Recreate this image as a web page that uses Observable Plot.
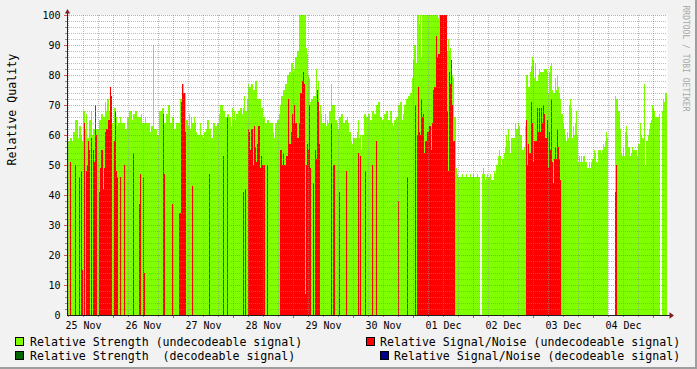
<!DOCTYPE html>
<html><head><meta charset="utf-8">
<script src="https://cdn.jsdelivr.net/npm/d3@7"></script>
<script src="https://cdn.jsdelivr.net/npm/@observablehq/plot@0.6"></script>
<style>
html,body{margin:0;padding:0;background:#f2f2f2;}
#wrap{position:relative;width:697px;height:369px;background:#f2f2f2;overflow:hidden;font-family:"DejaVu Sans Mono",monospace;color:#000;}
#wrap::after{content:"";position:absolute;left:0;top:0;right:0;bottom:0;border-right:2px solid #9e9e9e;border-bottom:2px solid #9e9e9e;pointer-events:none;}
#chart svg{display:block;background:transparent;}
#legend{position:relative;height:39px;font-size:11.6px;line-height:14px;white-space:pre;}
#legend .box{position:absolute;width:9px;height:9px;box-sizing:border-box;border:1px solid #000;}
#legend .lt{position:absolute;}
</style>
</head><body>
<div id="wrap"><div id="chart"></div><div id="legend"></div></div>
<script>
// ---- time base: one sample every 24 minutes, 600 samples (10 days)
const startTime = Date.UTC(2012, 10, 25, 5, 36);
const stepMinutes = 24;
const sampleCount = 600;

// day tick labels (centred on noon)
const dayLabels = ["2012-11-25","2012-11-26","2012-11-27","2012-11-28","2012-11-29","2012-11-30","2012-12-01","2012-12-02","2012-12-03","2012-12-04"];
const yTickValues = [0,10,20,30,40,50,60,70,80,90,100];

// series as runs: [sampleIndex, value] — value holds until next run; null = no data
const strengthUndecodeable = [
[0,56],[1,58],[3,59],[5,58],[6,61],[8,65],[11,59],[12,63],[14,60],[15,58],[16,68],[18,62],[19,67],[20,59],[22,65],[24,68],[25,60],[26,62],
[32,65],[34,67],[36,66],[38,71],[39,68],[40,72],[42,68],[43,72],[45,64],[46,58],[47,69],[49,66],[50,63],[51,64],[53,66],[54,64],[58,62],
[60,66],[62,68],[65,65],[66,67],[68,68],[70,66],[74,67],[75,64],[78,66],[79,64],[83,61],[84,63],[86,90],[87,62],[90,60],[92,68],[95,69],
[97,64],[99,67],[101,70],[103,64],[105,66],[107,62],[109,64],[113,72],[115,74],[116,77],[117,74],[119,65],[121,63],[122,67],[123,62],
[124,66],[125,64],[127,66],[128,64],[129,61],[130,60],[133,64],[134,60],[136,59],[137,61],[139,62],[140,65],[142,62],[144,59],[146,64],
[148,63],[150,64],[152,67],[153,70],[156,68],[158,66],[160,67],[162,66],[164,63],[165,69],[166,65],[167,68],[168,65],[169,67],[171,68],
[173,69],[175,67],[176,69],[177,73],[178,68],[180,72],[181,77],[182,76],[184,77],[186,75],[188,78],[190,72],[194,69],[196,66],[198,64],
[200,65],[202,64],[206,61],[207,59],[208,64],[210,65],[212,67],[213,70],[214,73],[216,75],[218,77],[220,80],[222,81],[224,84],[226,81],
[227,82],[228,86],[230,88],[232,100],[239,89],[240,87],[241,80],[242,79],[243,71],[244,72],[246,73],[249,82],[250,75],[251,78],[252,68],
[253,70],[254,67],[255,64],[258,67],[259,63],[260,65],[261,64],[262,68],[264,77],[265,70],[268,65],[270,64],[271,62],[272,66],[274,67],
[276,64],[278,65],[280,66],[281,64],[282,61],[284,58],[285,57],[286,59],[290,61],[291,65],[292,59],[293,60],[294,55],[295,60],[297,67],
[299,66],[301,67],[303,65],[305,68],[307,67],[309,70],[311,71],[313,66],[315,65],[317,67],[319,68],[321,65],[323,68],[325,64],[326,63],
[327,65],[329,66],[331,70],[333,71],[335,65],[336,67],[337,70],[339,72],[341,73],[343,74],[345,79],[346,85],[347,90],[349,84],[350,100],
[352,97],[353,100],[354,86],[355,100],[371,99],[372,100],[374,98],[375,100],[380,88],[381,92],[382,88],[383,89],[384,85],[385,80],[386,79],
[387,66],[389,49],[390,47],[391,46],[395,47],[396,46],[399,47],[400,46],[403,47],[404,46],[406,47],[407,46],[410,47],[411,46],[413,null],
[415,47],[416,49],[417,47],[418,45],[419,46],[420,47],[421,46],[423,47],[424,45],[427,48],[428,47],[429,50],[431,53],[432,55],[433,53],
[434,50],[435,52],[437,54],[438,56],[439,60],[440,58],[441,62],[442,58],[443,54],[444,59],[448,64],[449,62],[451,64],[452,63],[453,60],
[455,55],[457,56],[458,63],[459,80],[461,76],[463,81],[464,83],[465,86],[466,85],[467,79],[468,84],[469,78],[471,80],[472,82],[473,81],
[477,82],[480,81],[481,74],[482,81],[483,83],[484,84],[485,75],[486,74],[488,79],[489,75],[490,80],[491,76],[492,74],[493,72],[494,67],
[496,64],[497,62],[498,60],[499,58],[500,61],[501,59],[502,70],[503,72],[504,69],[505,59],[506,63],[507,60],[508,64],[509,68],[510,60],
[511,51],[512,53],[513,51],[514,53],[515,51],[516,53],[518,51],[520,49],[522,51],[523,49],[524,51],[525,52],[527,55],[528,54],[529,51],
[531,55],[534,54],[535,55],[536,57],[537,56],[538,58],[539,61],[540,59],[541,null],[548,73],[549,72],[551,68],[553,62],[554,54],[555,53],
[556,56],[557,53],[558,61],[559,63],[560,60],[561,56],[563,53],[564,54],[565,56],[566,55],[570,53],[571,57],[573,64],[574,60],[575,59],
[577,77],[578,50],[579,58],[581,60],[582,62],[583,64],[584,65],[585,70],[586,69],[587,68],[588,66],[592,67],[593,null],[595,68],[596,72],
[597,71],[598,74]
];

const snrUndecodeable = [
[0,0],[3,51],[4,0],[8,50],[9,0],[12,46],[13,0],[14,48],[15,15],[16,0],[17,64],[18,0],[19,48],[20,50],[21,58],[22,55],[23,0],[24,59],[25,0],
[26,55],[27,51],[28,70],[29,60],[30,0],[32,41],[33,49],[34,55],[36,42],[37,49],[38,61],[39,62],[41,65],[43,76],[44,73],[45,0],[47,58],
[48,68],[49,48],[50,46],[51,0],[53,46],[54,0],[57,50],[58,0],[66,54],[67,0],[72,37],[73,47],[74,0],[76,46],[77,14],[78,0],[96,67],[97,47],
[98,0],[105,37],[106,0],[112,34],[114,71],[115,77],[116,74],[118,61],[119,0],[125,43],[126,0],[142,47],[143,0],[156,53],[157,0],[160,66],
[161,0],[176,41],[177,0],[178,42],[179,0],[181,62],[182,61],[183,55],[184,62],[186,50],[187,63],[188,56],[189,51],[190,57],[191,63],
[193,49],[194,53],[195,50],[198,0],[200,50],[201,0],[213,55],[215,50],[216,54],[217,50],[219,53],[221,72],[222,57],[224,61],[225,67],
[226,64],[227,70],[228,64],[230,59],[232,64],[233,74],[235,78],[236,81],[237,77],[238,7],[239,50],[240,57],[241,55],[242,70],[243,49],
[244,0],[246,44],[247,0],[248,55],[249,52],[250,75],[251,71],[252,57],[253,0],[264,64],[265,0],[266,50],[268,0],[272,41],[273,0],[279,48],
[280,0],[291,54],[292,0],[293,53],[294,0],[298,48],[299,0],[305,50],[306,0],[309,58],[310,0],[331,38],[332,0],[340,46],[341,0],[348,70],
[349,0],[350,60],[351,76],[352,61],[353,60],[354,72],[355,66],[356,67],[357,54],[358,58],[360,61],[362,63],[364,55],[365,64],[366,75],
[367,76],[369,93],[370,86],[371,87],[373,100],[380,68],[381,48],[382,81],[383,77],[384,85],[385,70],[386,58],[388,0],[459,65],[460,50],
[461,57],[462,54],[464,71],[465,64],[466,51],[467,58],[470,69],[471,61],[472,69],[473,61],[474,69],[475,64],[476,70],[477,67],[478,59],
[480,65],[481,49],[482,61],[483,55],[484,72],[485,51],[486,44],[487,52],[488,56],[489,52],[490,62],[491,56],[492,52],[493,45],[494,0],
[548,41],[549,50],[550,0]
];

const strengthDecodeable = [];
const snrDecodeable = [];

const legendItems = [
  {label: "Relative Strength (undecodeable signal)", color: "#7fff00"},
  {label: "Relative Signal/Noise (undecodeable signal)", color: "#ff0000"},
  {label: "Relative Strength  (decodeable signal)", color: "#006400"},
  {label: "Relative Signal/Noise (decodeable signal)", color: "#00008b"}
];

// ---- helpers
const stepMs = stepMinutes * 60000;
const endTime = startTime + sampleCount * stepMs;
const t = (i) => new Date(startTime + i * stepMs);
function runsToRects(runs) {
  const out = [];
  for (let k = 0; k < runs.length; k++) {
    const [i, v] = runs[k];
    const j = k + 1 < runs.length ? runs[k + 1][0] : sampleCount;
    if (v == null || v <= 0) continue;
    out.push({start: t(i), end: t(j), v});
  }
  return out;
}
const greenRects = runsToRects(strengthUndecodeable);
const redRects = runsToRects(snrUndecodeable);
const dgRects = runsToRects(strengthDecodeable);
const blueRects = runsToRects(snrDecodeable);

const noonTicks = dayLabels.map(d => new Date(d + "T12:00:00Z"));
const sixHours = d3.utcHour.every(6).range(new Date(startTime), new Date(endTime));
const majorX = sixHours.filter(d => d.getUTCHours() === 0);
const minorX = sixHours.filter(d => d.getUTCHours() !== 0);
const minorY = d3.range(2, 100, 2).filter(v => v % 10 !== 0);
const majorY = d3.range(10, 101, 10);

const triUp = {draw(ctx) { ctx.moveTo(0, -2.5); ctx.lineTo(2.6, 2); ctx.lineTo(-2.6, 2); ctx.closePath(); }};
const triRight = {draw(ctx) { ctx.moveTo(2.5, 0); ctx.lineTo(-2, -3.3); ctx.lineTo(-2, 3.3); ctx.closePath(); }};

const font = "DejaVu Sans Mono";
const minorCol = "#8f8f8f", majorCol = "#de4f4f";

const chart = Plot.plot({
  width: 697, height: 330,
  marginLeft: 67, marginRight: 30, marginTop: 15, marginBottom: 15,
  style: {background: "transparent", fontFamily: font, color: "#000"},
  x: {type: "utc", domain: [new Date(startTime), new Date(endTime)], axis: null},
  y: {domain: [0, 100], axis: null},
  marks: [
    Plot.frame({fill: "#fff", stroke: "none"}),
    Plot.rect(greenRects, {x1: "start", x2: "end", y1: 0, y2: "v", fill: "#7fff00", shapeRendering: "crispEdges"}),
    Plot.rect(redRects, {x1: "start", x2: "end", y1: 0, y2: "v", fill: "#ff0000", shapeRendering: "crispEdges"}),
    Plot.rect(dgRects, {x1: "start", x2: "end", y1: 0, y2: "v", fill: "#006400", shapeRendering: "crispEdges"}),
    Plot.rect(blueRects, {x1: "start", x2: "end", y1: 0, y2: "v", fill: "#00008b", shapeRendering: "crispEdges"}),
    Plot.ruleY(minorY, {stroke: minorCol, strokeOpacity: 0.6, strokeDasharray: "1,1"}),
    Plot.ruleX(minorX, {stroke: minorCol, strokeOpacity: 0.6, strokeDasharray: "1,1"}),
    Plot.ruleY(majorY, {stroke: majorCol, strokeOpacity: 0.55, strokeDasharray: "1,1"}),
    Plot.ruleX(majorX, {stroke: majorCol, strokeOpacity: 0.55, strokeDasharray: "1,1"}),
    Plot.axisX({ticks: minorX, tickSize: 2, tickFormat: () => "", stroke: minorCol}),
    Plot.axisX({ticks: majorX, tickSize: 3, tickFormat: () => "", stroke: majorCol}),
    Plot.axisY({ticks: minorY, tickSize: 2, tickFormat: () => "", stroke: minorCol}),
    Plot.axisY({ticks: majorY, tickSize: 3, tickFormat: () => "", stroke: majorCol}),
    Plot.axisY({ticks: yTickValues, tickSize: 0, tickPadding: 7, fontSize: 10, fontFamily: font, label: null, fill: "#000"}),
    Plot.axisX({ticks: noonTicks, tickSize: 0, tickPadding: 6, fontSize: 10, fontFamily: font, label: null, tickFormat: d3.utcFormat("%d %b"), fill: "#000"}),
    Plot.ruleY([0], {stroke: "#1f1f1f", insetRight: -4}),
    Plot.ruleX([new Date(startTime)], {stroke: "#1f1f1f", insetTop: -3}),
    Plot.dot([{x: new Date(startTime), y: 100}], {x: "x", y: "y", symbol: triUp, r: 3, fill: "#801f1f", stroke: "none", dy: -4}),
    Plot.dot([{x: new Date(endTime), y: 0}], {x: "x", y: "y", symbol: triRight, r: 3, fill: "#801f1f", stroke: "none", dx: 4}),
    Plot.text(["Relative Quality"], {frameAnchor: "left", dx: -55, rotate: -90, fontSize: 11.6, fontFamily: font, fill: "#000"}),
    Plot.text(["RRDTOOL / TOBI OETIKER"], {frameAnchor: "top-right", dx: 21, dy: -10, rotate: 90, textAnchor: "start", fontSize: 8, fontFamily: font, fill: "#a8a8a8"})
  ]
});
document.getElementById("chart").appendChild(chart);

// ---- legend
const legendPos = [
  {box: 15, text: 30, top: 0},
  {box: 366, text: 380, top: 0},
  {box: 15, text: 30, top: 14},
  {box: 380, text: 394, top: 14}
];
const lg = document.getElementById("legend");
legendItems.forEach((it, i) => {
  const p = legendPos[i];
  const b = document.createElement("span");
  b.className = "box"; b.style.left = p.box + "px"; b.style.top = (7 + p.top) + "px"; b.style.background = it.color;
  const s = document.createElement("span");
  s.className = "lt"; s.style.left = p.text + "px"; s.style.top = (4.5 + p.top) + "px"; s.textContent = it.label;
  lg.appendChild(b); lg.appendChild(s);
});
</script>
</body></html>
